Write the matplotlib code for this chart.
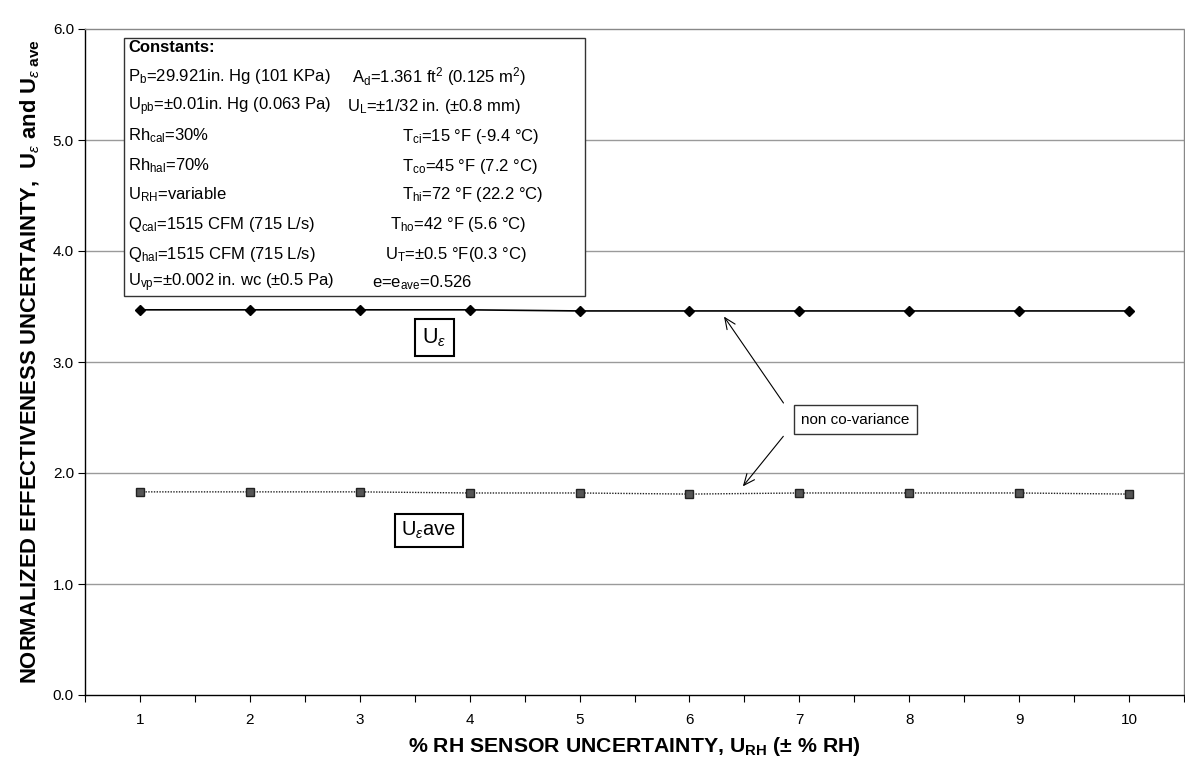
import matplotlib
matplotlib.use("Agg")
import matplotlib.pyplot as plt
from matplotlib.patches import Rectangle
import numpy as np

# ---- data ----
rh_uncertainty = [1, 2, 3, 4, 5, 6, 7, 8, 9, 10]
u_eps = [3.47, 3.47, 3.47, 3.47, 3.46, 3.46, 3.46, 3.46, 3.46, 3.46]
u_eps_ave = [1.83, 1.83, 1.83, 1.82, 1.82, 1.81, 1.82, 1.82, 1.82, 1.81]
y_ticks = [0.0, 1.0, 2.0, 3.0, 4.0, 5.0, 6.0]

plt.rcParams['font.family'] = ['Liberation Sans', 'DejaVu Sans']
plt.rcParams['mathtext.fontset'] = 'custom'
plt.rcParams['mathtext.rm'] = 'Liberation Sans'
plt.rcParams['mathtext.it'] = 'Liberation Sans:italic'
plt.rcParams['mathtext.bf'] = 'Liberation Sans:bold'

W, H = 1185, 760
fig = plt.figure(figsize=(W / 100, H / 100), dpi=100)
ax = fig.add_axes([85 / W, 1 - 695 / H, (1184 - 85) / W, (695 - 29) / H])

ax.set_xlim(0.5, 10.5)
ax.set_ylim(0, 6)

# gridlines
for yv in y_ticks[1:-1]:
    ax.axhline(yv, color='#9a9a9a', lw=1.0, zorder=1)

ax.plot(rh_uncertainty, u_eps, color='black', lw=1.2, marker='D', ms=5.5,
        markerfacecolor='black', markeredgecolor='black', zorder=3)
ax.plot(rh_uncertainty, u_eps_ave, color='#222222', lw=1.0, ls=(0, (1, 1)),
        marker='s', ms=6, markerfacecolor='#555555', markeredgecolor='#222222', zorder=3)

# axes styling
ax.set_yticks(y_ticks)
ax.set_yticklabels([f"{v:.1f}" for v in y_ticks], fontsize=11)
ax.set_xticks(rh_uncertainty)
ax.set_xticklabels([str(v) for v in rh_uncertainty], fontsize=11,
                   family=['Liberation Sans Narrow', 'Liberation Sans'])
ax.set_xticks(np.arange(0.5, 10.6, 1.0), minor=True)
ax.tick_params(axis='x', which='both', direction='out', length=5, width=0.8, pad=8)
ax.tick_params(axis='y', which='both', direction='out', length=5, width=0.8, pad=3)
for s in ['left', 'bottom']:
    ax.spines[s].set_color('black')
    ax.spines[s].set_linewidth(1.0)
for s in ['top', 'right']:
    ax.spines[s].set_color('#888888')
    ax.spines[s].set_linewidth(1.0)
    ax.spines[s].set_linestyle((0, (2, 1)))

ax.set_xlabel(r"% RH SENSOR UNCERTAINTY, U$_{\mathbf{RH}}$ (± % RH)",
              fontsize=15.3, fontweight='bold', labelpad=6,
              family=['Liberation Sans Narrow', 'Liberation Sans'])
ax.set_ylabel(r"NORMALIZED EFFECTIVENESS UNCERTAINTY,  U$_{ε}$ and U$_{ε\ \mathbf{ave}}$",
              fontsize=15.8, fontweight='bold', labelpad=8,
              family=['Liberation Sans Narrow', 'Liberation Sans'])

# curve labels
ax.text(3.68, 3.22, r"U$_{ε}$", fontsize=15.5, ha='center', va='center',
        bbox=dict(boxstyle='square,pad=0.35', fc='white', ec='black', lw=1.5))
ax.text(3.63, 1.48, r"U$_{ε}$ave", fontsize=14.5, ha='center', va='center',
        bbox=dict(boxstyle='square,pad=0.3', fc='white', ec='black', lw=1.5))

# non co-variance annotation
ax.text(7.51, 2.48, "non co-variance", fontsize=11, ha='center', va='center',
        bbox=dict(boxstyle='square,pad=0.5', fc='white', ec='#333333', lw=1.0), zorder=5)
ax.annotate("", xy=(6.30, 3.43), xytext=(6.87, 2.61),
            arrowprops=dict(arrowstyle='->,head_length=0.8,head_width=0.35', color='black', lw=0.8))
ax.annotate("", xy=(6.47, 1.86), xytext=(6.87, 2.35),
            arrowprops=dict(arrowstyle='->,head_length=0.8,head_width=0.35', color='black', lw=0.8))

# constants box (figure pixel placement)
def fx(px):
    return px / W

def fy(py):
    return 1 - py / H

fig.patches.append(Rectangle((fx(124), fy(296)), fx(585) - fx(124), fy(38) - fy(296),
                             transform=fig.transFigure, fc='white', ec='#333333', lw=1.0, zorder=4))

fs = 12
left_col = [
    r"P$_{\rm b}$=29.921in. Hg (101 KPa)",
    r"U$_{\rm pb}$=±0.01in. Hg (0.063 Pa)",
    r"Rh$_{\rm cal}$=30%",
    r"Rh$_{\rm hal}$=70%",
    r"U$_{\rm RH}$=variable",
    r"Q$_{\rm cal}$=1515 CFM (715 L/s)",
    r"Q$_{\rm hal}$=1515 CFM (715 L/s)",
    r"U$_{\rm vp}$=±0.002 in. wc (±0.5 Pa)",
]
right_col = [
    (352, r"A$_{\rm d}$=1.361 ft$^{2}$ (0.125 m$^{2}$)"),
    (347, r"U$_{\rm L}$=±1/32 in. (±0.8 mm)"),
    (402, r"T$_{\rm ci}$=15 °F (-9.4 °C)"),
    (402, r"T$_{\rm co}$=45 °F (7.2 °C)"),
    (402, r"T$_{\rm hi}$=72 °F (22.2 °C)"),
    (390, r"T$_{\rm ho}$=42 °F (5.6 °C)"),
    (385, r"U$_{\rm T}$=±0.5 °F(0.3 °C)"),
    (372, r"e=e$_{\rm ave}$=0.526"),
]
fig.text(fx(128), fy(48), "Constants:", fontsize=fs, fontweight='bold', va='center', zorder=5)
rows_y = [77, 107, 136, 166, 195, 224, 254, 283]
for ry, lt, (rx, rt) in zip(rows_y, left_col, right_col):
    fig.text(fx(128), fy(ry), lt, fontsize=fs, va='center', zorder=5)
    fig.text(fx(rx), fy(ry), rt, fontsize=fs, va='center', zorder=5)

fig.savefig("out.png", dpi=100)
